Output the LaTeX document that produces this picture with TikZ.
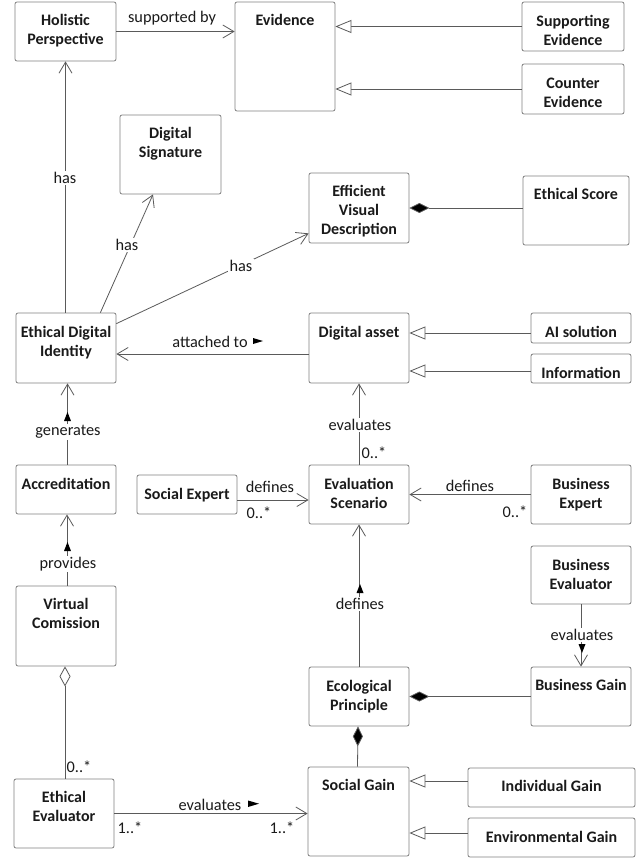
\documentclass[tikz,border=0pt]{standalone}
\usepackage{fontspec}
\setmainfont{Carlito}
\usetikzlibrary{arrows.meta,fit,calc}
\definecolor{boxgray}{HTML}{808080}
\definecolor{linegray}{HTML}{5A5A5A}
\definecolor{txtc}{HTML}{1A1A1A}
\begin{document}
\begin{tikzpicture}[x=1pt,y=-1pt,
  box/.style={draw=boxgray, line width=0.8pt, rounded corners=2pt, fill=white, inner sep=0pt},
  ttl/.style={font=\fontsize{16}{19}\selectfont\bfseries, align=center, inner sep=0pt, anchor=base, text=txtc},
  lab/.style={font=\fontsize{16.3}{19}\selectfont, inner sep=1pt, text=txtc},
  onl/.style={lab, fill=white, inner sep=1.5pt},
  conn/.style={draw=linegray, line width=0.8pt},
  assoc/.style={conn, -{Straight Barb[length=11pt,width=13pt,line width=0.8pt]}},
  gen/.style={conn, -{Triangle[open,length=16pt,width=13pt,fill=white,line width=0.8pt]}},
  comp/.style={conn, {Diamond[length=20pt,width=10pt,fill=black]}-},
  aggr/.style={conn, {Diamond[open,length=20pt,width=11pt,fill=white,line width=0.8pt]}-},
  dirmark/.style={fill=black}
]
\useasboundingbox[fill=white] (0,0) rectangle (637,859);

% ---------- boxes (title shift = baseline of last line) ----------
\node[box, fit={(15,2) (116,61)}] (hp) {};
\node[ttl] (hpt) at ([yshift=-43pt]hp.north) {Holistic\\Perspective};
\node[box, fit={(235,2) (335,111)}] (ev) {};
\node[ttl] (evt) at ([yshift=-24pt]ev.north) {Evidence};
\node[box, fit={(522,2) (624,51)}] (se) {};
\node[ttl] (set) at ([yshift=-44pt]se.north) {Supporting\\Evidence};
\node[box, fit={(522,64) (624,114)}] (ce) {};
\node[ttl] (cet) at ([yshift=-44pt]ce.north) {Counter\\Evidence};
\node[box, fit={(120,115) (221,194)}] (ds) {};
\node[ttl] (dst) at ([yshift=-43pt]ds.north) {Digital\\Signature};
\node[box, fit={(309,173) (409,243)}] (evd) {};
\node[ttl] (evdt) at ([yshift=-62pt]evd.north) {Efficient\\Visual\\Description};
\node[box, fit={(523,176) (629,245)}] (es) {};
\node[ttl] (est) at ([yshift=-24pt]es.north) {Ethical Score};
\node[box, fit={(16,313) (116,383)}] (edi) {};
\node[ttl] (edit) at ([yshift=-44pt]edi.north) {Ethical Digital\\Identity};
\node[box, fit={(309,313) (409,383)}] (da) {};
\node[ttl] (dat) at ([yshift=-25pt]da.north) {Digital asset};
\node[box, fit={(531,313) (631,343)}] (ai) {};
\node[ttl] (ait) at ([yshift=-25pt]ai.north) {AI solution};
\node[box, fit={(531,354) (631,383)}] (inf) {};
\node[ttl] (inft) at ([yshift=-25pt]inf.north) {Information};
\node[box, fit={(16,465) (116,514)}] (acc) {};
\node[ttl] (acct) at ([yshift=-25pt]acc.north) {Accreditation};
\node[box, fit={(137,475) (237,514)}] (sox) {};
\node[ttl] (soxt) at ([yshift=-25pt]sox.north) {Social Expert};
\node[box, fit={(309,465) (409,524)}] (esc) {};
\node[ttl] (esct) at ([yshift=-44pt]esc.north) {Evaluation\\Scenario};
\node[box, fit={(531,465) (631,524)}] (bex) {};
\node[ttl] (bext) at ([yshift=-44pt]bex.north) {Business\\Expert};
\node[box, fit={(16,586) (116,666)}] (vc) {};
\node[ttl] (vct) at ([yshift=-43pt]vc.north) {Virtual\\Comission};
\node[box, fit={(531,546) (631,604)}] (bev) {};
\node[ttl] (bevt) at ([yshift=-44pt]bev.north) {Business\\Evaluator};
\node[box, fit={(531,667) (631,726)}] (bg) {};
\node[ttl] (bgt) at ([yshift=-24pt]bg.north) {Business Gain};
\node[box, fit={(309,667) (409,726)}] (ep) {};
\node[ttl] (ept) at ([yshift=-44pt]ep.north) {Ecological\\Principle};
\node[box, fit={(14,779) (114,848)}] (ee) {};
\node[ttl] (eet) at ([yshift=-43pt]ee.north) {Ethical\\Evaluator};
\node[box, fit={(308,767) (409,856)}] (sg) {};
\node[ttl] (sgt) at ([yshift=-24pt]sg.north) {Social Gain};
\node[box, fit={(468,768) (635,807)}] (ig) {};
\node[ttl] (igt) at ([yshift=-24pt]ig.north) {Individual Gain};
\node[box, fit={(468,818) (635,857)}] (eng) {};
\node[ttl] (engt) at ([yshift=-25pt]eng.north) {Environmental Gain};

% ---------- helper coordinates ----------
\coordinate (yat) at (0,354);
\coordinate (yai) at (0,333);
\coordinate (yinf) at (0,371);
\coordinate (xacc) at (67.5,0);
\coordinate (xvc) at (65,0);
\coordinate (ysox) at (0,500);
\coordinate (yig) at (0,781);
\coordinate (yeng) at (0,833);

% ---------- connectors ----------
\draw[assoc] (hp.east) -- (hp.east -| ev.west);
\draw[gen] (se.west) -- (se.west -| ev.east);
\draw[gen] (ce.west) -- (ce.west -| ev.east);
\draw[assoc] (hp.south |- edi.north) -- (hp.south);
\draw[assoc] ([xshift=-16pt]edi.north east) -- ([xshift=-17.5pt]ds.south);
\draw[assoc] ([yshift=-11pt]edi.north east) -- ([yshift=10pt]evd.south west);
\draw[comp] (evd.east) -- (evd.east -| es.west);
\draw[assoc] (da.west |- yat) -- (edi.east |- yat);
\draw[gen] (ai.west |- yai) -- (da.east |- yai);
\draw[gen] (inf.west |- yinf) -- (da.east |- yinf);
\draw[assoc] (xacc |- acc.north) -- (xacc |- edi.south);
\draw[assoc] ([xshift=1pt]vc.north) -- ([xshift=1pt]acc.south);
\draw[aggr] (xvc |- vc.south) -- (xvc |- ee.north);
\draw[assoc] (ee.east) -- (ee.east -| sg.west);
\draw[assoc] (sox.east |- ysox) -- (esc.west |- ysox);
\draw[assoc] (bex.west) -- (bex.west -| esc.east);
\draw[assoc] (esc.north) -- (da.south);
\draw[assoc] (ep.north) -- (esc.south);
\draw[assoc] (bev.south) -- (bg.north);
\draw[comp] (ep.east) -- (ep.east -| bg.west);
\draw[comp] ([xshift=-1pt]ep.south) -- ([xshift=-1pt]sg.north);
\draw[gen] (ig.west |- yig) -- (sg.east |- yig);
\draw[gen] (eng.west |- yeng) -- (sg.east |- yeng);

% ---------- labels ----------
\node[lab] (l1) at (172,18) {supported by};
\node[onl] (l2) at (65,178) {has};
\node[onl] (l3) at (127,245) {has};
\node[onl] (l4) at (241,266) {has};
\node[lab] (l5) at (210,342) {attached to};
\node[onl] (l6) at (68,432) {generates};
\node[onl] (l7) at (360,425) {evaluates};
\node[lab] (l8) at (374,453) {0..*};
\node[lab] (l9) at (270,487) {defines};
\node[lab] (l10) at (259,513) {0..*};
\node[lab] (l11) at (470,486) {defines};
\node[lab] (l12) at (515,512) {0..*};
\node[onl] (l13) at (68,564) {provides};
\node[onl] (l14) at (360,604) {defines};
\node[onl] (l15) at (582,635) {evaluates};
\node[lab] (l16) at (79,767) {0..*};
\node[lab] (l17) at (210,805) {evaluates};
\node[lab] (l18) at (130,828) {1..*};
\node[lab] (l19) at (282,828) {1..*};

% ---------- direction markers ----------
\fill[dirmark] (253,338) -- (253,344) -- (263,341) -- cycle;
\fill[dirmark] (248,800.5) -- (248,807) -- (259,803.7) -- cycle;
\fill[dirmark] (64,421) -- (71,421) -- (67.5,412) -- cycle;
\fill[dirmark] (64,551) -- (71,551) -- (67.5,542) -- cycle;
\fill[dirmark] (356.5,593) -- (363.5,593) -- (360,584) -- cycle;
\fill[dirmark] (578.5,644) -- (585.5,644) -- (582,653) -- cycle;
\end{tikzpicture}
\end{document}
